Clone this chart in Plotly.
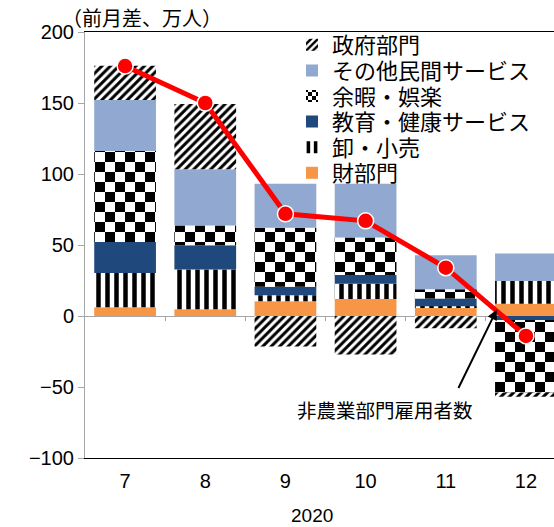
import plotly.graph_objects as go

# 2020年7月〜12月 非農業部門雇用者数（前月差、万人）の業種別寄与
months = ["7", "8", "9", "10", "11", "12"]
year_label = "2020"

goods = [6.2, 4.8, 10.3, 11.9, 6.0, 8.6]            # 財部門
trade = [24.0, 28.0, 4.3, 10.8, 0.8, 16.0]          # 卸・小売
edu_health = [22.0, 17.0, 6.0, 6.1, 5.5, -2.8]      # 教育・健康サービス
leisure = [64.0, 14.0, 41.6, 26.4, 6.6, -51.0]      # 余暇・娯楽
other_private = [36.0, 39.5, 31.0, 38.0, 23.8, 19.4]  # その他民間サービス
government = [24.0, 46.0, -21.5, -27.2, -8.6, -3.0]  # 政府部門
nonfarm_total = [176.0, 150.0, 72.0, 67.0, 34.0, -14.0]  # 非農業部門雇用者数

series_names = ["財部門", "卸・小売", "教育・健康サービス", "余暇・娯楽",
                "その他民間サービス", "政府部門"]
line_name = "非農業部門雇用者数"
y_title = "（前月差、万人）"

FONT = "Liberation Sans, Noto Sans CJK JP, sans-serif"
CJK_FONT = "Noto Sans CJK JP, sans-serif"
x_pos = list(range(len(months)))

W, H = 554, 527
ML, MT, MB = 85, 32, 69
plot_w = W - ML
plot_h = H - MT - MB
x_range = [-0.5, 5.35]
y_range = [-100, 200]


def px_to_paper_x(px):
    return (px - ML) / plot_w


def px_to_paper_y(py):
    return 1 - (py - MT) / plot_h


def texture(shape, size, solidity):
    return dict(shape=shape, size=size, solidity=solidity, fgcolor="black",
                bgcolor="white", fgopacity=1, fillmode="replace")


styles = [
    dict(color="#F79646"),
    dict(color="black", pattern=texture("|", 9, 0.5)),
    dict(color="#1F497D"),
    dict(color="black", pattern=texture(".", 20, 0.5)),
    dict(color="#91A8D0"),
    dict(color="black", pattern=texture("/", 6, 0.5)),
]
values = [goods, trade, edu_health, leisure, other_private, government]

fig = go.Figure()

# legend rows, top to bottom: government first
row_px = [45, 70.6, 96.2, 121.8, 147.4, 173]
legend_x = px_to_paper_x(292)
for i, (name, vals, st) in enumerate(zip(series_names, values, styles)):
    key = "legend" if i == 0 else f"legend{i + 1}"
    fig.add_trace(go.Bar(
        x=x_pos, y=vals, name=name, marker=dict(line=dict(width=0), **st),
        legend=key, hoverinfo="skip",
    ))
    row = row_px[len(series_names) - 1 - i]
    fig.layout[key] = dict(
        x=legend_x, y=px_to_paper_y(row), xanchor="left", yanchor="middle",
        bgcolor="rgba(0,0,0,0)", borderwidth=0,
        font=dict(family=CJK_FONT, size=22, color="black"),
    )

fig.add_trace(go.Scatter(
    x=x_pos, y=nonfarm_total, mode="lines+markers", name=line_name,
    line=dict(color="#FF0000", width=5),
    marker=dict(size=16, color="#FF0000", line=dict(color="white", width=1.5)),
    showlegend=False, hoverinfo="skip",
))

# zero-level axis carrying the category separator ticks
fig.add_trace(go.Scatter(x=[None], y=[None], xaxis="x2", showlegend=False,
                         hoverinfo="skip"))

fig.update_layout(
    width=W, height=H,
    margin=dict(l=ML, r=0, t=MT, b=MB, pad=0),
    paper_bgcolor="white", plot_bgcolor="white",
    barmode="relative", bargap=0.23,
    font=dict(family=FONT, size=20, color="black"),
    xaxis=dict(
        range=x_range, tickmode="array", tickvals=x_pos, ticktext=months,
        ticks="", showgrid=False, zeroline=False,
        showline=True, linecolor="black", linewidth=1, mirror=True,
        tickfont=dict(size=20), ticklabelstandoff=5,
    ),
    xaxis2=dict(
        range=x_range, overlaying="x", anchor="free", position=1 / 3,
        showline=True, linecolor="#A6A6A6", linewidth=1, layer="below traces",
        tickmode="array", tickvals=[k + 0.5 for k in x_pos[:-1]],
        ticks="outside", ticklen=4, tickcolor="#A6A6A6",
        showticklabels=False, showgrid=False, zeroline=False,
    ),
    yaxis=dict(
        range=y_range, dtick=50, showgrid=False, zeroline=False,
        showline=True, linecolor="#A6A6A6", linewidth=1,
        ticks="outside", ticklen=6, tickcolor="#A6A6A6",
        tickfont=dict(size=20),
    ),
)

fig.add_annotation(
    text=y_title, xref="paper", yref="paper",
    x=px_to_paper_x(60), y=px_to_paper_y(17), xanchor="left", yanchor="middle",
    showarrow=False, font=dict(family=CJK_FONT, size=20),
)
fig.add_annotation(
    text=year_label, xref="paper", yref="paper",
    x=px_to_paper_x(312), y=px_to_paper_y(515), xanchor="center",
    yanchor="middle", showarrow=False, font=dict(size=19),
)
fig.add_annotation(
    text=line_name, xref="x", yref="y", x=3.24, y=-65.5,
    xanchor="center", yanchor="middle", showarrow=False,
    font=dict(family=CJK_FONT, size=19.5),
)
fig.add_annotation(
    text="", xref="x", yref="y", x=4.635, y=4.4,
    axref="x", ayref="y", ax=4.149, ay=-51.8,
    showarrow=True, arrowhead=2, arrowsize=1, arrowwidth=2,
    arrowcolor="black", standoff=0,
)

# turn the dot texture into a checkerboard texture
checker_js = """
var gd = document.getElementById('{plot_id}');
gd.querySelectorAll('pattern').forEach(function(p) {
  var c = p.querySelector('circle');
  if (!c) return;
  var w = parseFloat(p.getAttribute('width'));
  var h = w / 2;
  var path = document.createElementNS('http://www.w3.org/2000/svg', 'path');
  path.setAttribute('d', 'M0,0h' + h + 'v' + h + 'h-' + h + 'z' +
                         'M' + h + ',' + h + 'h' + h + 'v' + h + 'h-' + h + 'z');
  path.setAttribute('fill', c.getAttribute('fill'));
  p.replaceChild(path, c);
});
"""

fig.write_html("out.html", post_script=checker_js)
